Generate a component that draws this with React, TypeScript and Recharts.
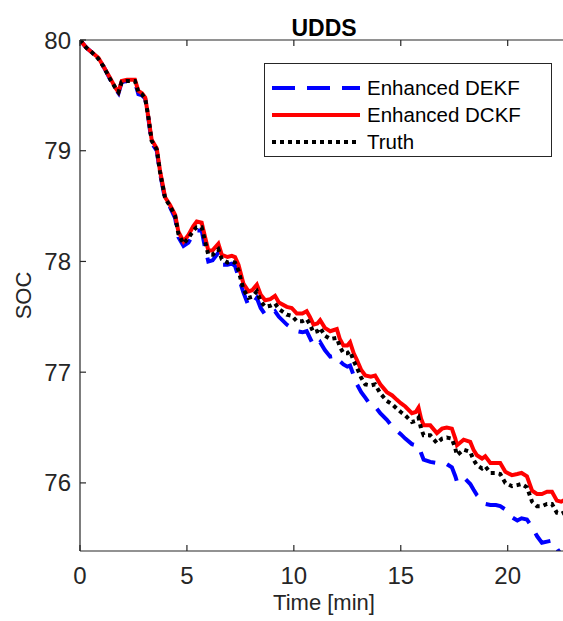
import { LineChart, Line, XAxis, YAxis, Legend } from "recharts";

// SOC estimates over the UDDS cycle
const FONT = '"Liberation Sans", Arial, Helvetica, sans-serif';
const AXIS = "#262626";

const timeMin = [
  0.0, 0.3, 0.55, 0.86, 1.1, 1.4, 1.65, 1.8, 1.95, 2.2,
  2.57, 2.73, 2.9, 3.05, 3.2, 3.35, 3.59, 3.74, 3.98, 4.21,
  4.45, 4.6, 4.84, 5.07, 5.3, 5.46, 5.69, 5.85, 6.0, 6.2,
  6.47, 6.63, 6.9, 7.1, 7.25, 7.41, 7.64, 7.88, 8.05, 8.27,
  8.45, 8.66, 8.9, 9.12, 9.3, 9.67, 9.9, 10.14, 10.4, 10.6,
  10.75, 10.92, 11.1, 11.23, 11.45, 11.7, 12.01, 12.15, 12.32, 12.5,
  12.63, 12.8, 12.95, 13.15, 13.34, 13.6, 13.8, 14.04, 14.35, 14.6,
  14.82, 15.0, 15.21, 15.52, 15.7, 15.83, 15.95, 16.07, 16.38, 16.69,
  16.93, 17.15, 17.39, 17.55, 17.63, 17.94, 18.25, 18.4, 18.56, 18.8,
  18.95, 19.19, 19.45, 19.65, 19.89, 20.2, 20.45, 20.65, 20.9, 21.14,
  21.37, 21.6, 21.84, 22.07, 22.3, 22.5, 22.82,
];

const dekfSoc = [
  80.0, 79.93, 79.89, 79.83, 79.76, 79.65, 79.56, 79.52, 79.62, 79.63,
  79.62, 79.51, 79.5, 79.47, 79.29, 79.07, 79.0, 78.8, 78.56, 78.49,
  78.39, 78.22, 78.14, 78.17, 78.25, 78.28, 78.28, 78.12, 78.0, 78.01,
  78.08, 77.97, 77.97, 77.98, 77.96, 77.86, 77.72, 77.6, 77.61, 77.67,
  77.58, 77.52, 77.52, 77.55, 77.5, 77.43, 77.4, 77.37, 77.36, 77.37,
  77.31, 77.24, 77.24, 77.27, 77.2, 77.14, 77.15, 77.1, 77.07, 77.05,
  77.06, 76.97, 76.89, 76.82, 76.77, 76.7, 76.69, 76.63, 76.57, 76.51,
  76.47, 76.44, 76.4, 76.35, 76.34, 76.34, 76.27, 76.21, 76.19, 76.18,
  76.17, 76.17, 76.14, 76.06, 76.01, 76.05, 75.99, 75.94, 75.89, 75.84,
  75.81, 75.8, 75.8, 75.79, 75.76, 75.69, 75.66, 75.68, 75.67, 75.6,
  75.52, 75.46, 75.47, 75.48, 75.41, 75.35, 75.3,
];

const dckfSoc = [
  80.0, 79.93, 79.89, 79.84, 79.76, 79.66, 79.57, 79.53, 79.63, 79.64,
  79.64, 79.54, 79.52, 79.48, 79.3, 79.1, 79.02, 78.82, 78.58, 78.51,
  78.42, 78.27, 78.18, 78.24, 78.32, 78.36, 78.35, 78.22, 78.1, 78.1,
  78.16, 78.06, 78.04, 78.05, 78.04, 77.97, 77.8, 77.73, 77.74, 77.79,
  77.7, 77.65, 77.66, 77.69, 77.63, 77.59, 77.58, 77.53, 77.53, 77.55,
  77.5, 77.43, 77.44, 77.47, 77.4, 77.37, 77.39, 77.3, 77.24, 77.24,
  77.27, 77.17, 77.11, 77.02, 76.97, 76.96, 76.97, 76.89, 76.82, 76.79,
  76.75, 76.72, 76.69, 76.63, 76.64, 76.68, 76.58, 76.52, 76.52, 76.45,
  76.49, 76.5, 76.49, 76.4, 76.34, 76.39, 76.37, 76.3, 76.25, 76.22,
  76.24, 76.18, 76.18, 76.18, 76.1, 76.07, 76.08, 76.09, 76.06, 75.93,
  75.9, 75.9, 75.92, 75.92, 75.84, 75.83, 75.86,
];

const truthSoc = [
  80.0, 79.93, 79.89, 79.83, 79.76, 79.65, 79.57, 79.53, 79.62, 79.63,
  79.63, 79.53, 79.51, 79.47, 79.3, 79.09, 79.01, 78.81, 78.57, 78.5,
  78.41, 78.25, 78.16, 78.21, 78.28, 78.31, 78.31, 78.18, 78.06, 78.06,
  78.11, 78.02, 77.99, 78.0, 77.99, 77.92, 77.75, 77.67, 77.68, 77.73,
  77.64, 77.59, 77.6, 77.62, 77.57, 77.52, 77.51, 77.46, 77.46, 77.48,
  77.43, 77.36, 77.37, 77.4, 77.33, 77.3, 77.31, 77.23, 77.17, 77.17,
  77.19, 77.1, 77.04, 76.95, 76.89, 76.88, 76.89, 76.81, 76.74, 76.71,
  76.67, 76.64, 76.61, 76.55, 76.56, 76.59, 76.49, 76.43, 76.43, 76.36,
  76.4, 76.41, 76.4, 76.31, 76.25, 76.3, 76.28, 76.21, 76.16, 76.13,
  76.15, 76.09, 76.09, 76.08, 76.0, 75.97, 75.98, 75.99, 75.96, 75.83,
  75.79, 75.79, 75.81, 75.81, 75.73, 75.72, 75.75,
];

const xTicks = [0, 5, 10, 15, 20];
const yTicks = [76, 77, 78, 79, 80];

const rows = timeMin.map((t, i) => ({
  t,
  dekf: dekfSoc[i],
  dckf: dckfSoc[i],
  truth: truthSoc[i],
}));

const series = [
  { key: "dekf", name: "Enhanced DEKF", color: "#0000FF", dash: "20 12", legendDash: "23 12" },
  { key: "dckf", name: "Enhanced DCKF", color: "#FF0000", dash: undefined, legendDash: undefined },
  { key: "truth", name: "Truth", color: "#000000", dash: "4 4", legendDash: "4 4" },
];

function LegendBox() {
  return (
    <svg width={289} height={95} style={{ display: "block" }}>
      <rect x={0.5} y={0.5} width={287} height={93} fill="#fff" stroke={AXIS} strokeWidth={1} />
      {series.map((s, i) => {
        const y = 25 + i * 27;
        return (
          <g key={s.key}>
            <line x1={8} x2={96} y1={y} y2={y} stroke={s.color} strokeWidth={4}
              strokeDasharray={s.legendDash} />
            <text x={103} y={y} dy="0.36em" fontSize={20.5} fill="#000" fontFamily={FONT}>
              {s.name}
            </text>
          </g>
        );
      })}
    </svg>
  );
}

export default function App() {
  return (
    <div style={{
      position: "fixed", left: 0, top: 0, width: 563, height: 621,
      overflow: "hidden", background: "#fff", fontFamily: FONT,
    }}>
      <LineChart width={600} height={621} data={rows}
        margin={{ top: 30, right: 32, bottom: 0, left: 0 }} style={{ fontFamily: FONT }}>
        <XAxis dataKey="t" type="number" domain={[0, 22.82]} ticks={xTicks} interval={0}
          allowDataOverflow height={70} tickSize={-6} tickMargin={22}
          tick={{ fontSize: 24, fill: AXIS }}
          axisLine={{ stroke: AXIS, strokeWidth: 1.2 }} tickLine={{ stroke: AXIS, strokeWidth: 1.2 }}
          label={{ value: "Time [min]", position: "insideBottom", offset: 11, fontSize: 22, fill: AXIS }} />
        <XAxis xAxisId="top" orientation="top" dataKey="t" type="number" domain={[0, 22.82]}
          ticks={xTicks} interval={0} allowDataOverflow height={10} tickSize={-6}
          tickFormatter={() => ""}
          axisLine={{ stroke: AXIS, strokeWidth: 1.2 }} tickLine={{ stroke: AXIS, strokeWidth: 1.2 }}
          label={{
            content: (p: any) => {
              const vb = p.viewBox;
              return (
                <text x={vb.x + vb.width / 2} y={vb.y + vb.height - 4} textAnchor="middle"
                  fontSize={23} fontWeight="bold" fill="#000" fontFamily={FONT}>UDDS</text>
              );
            },
          }} />
        <YAxis type="number" domain={[75.385, 80]} ticks={yTicks} interval={0} allowDataOverflow
          width={80} tickSize={-6} tickMargin={15}
          tick={{ fontSize: 24, fill: AXIS }}
          axisLine={{ stroke: AXIS, strokeWidth: 1.2 }} tickLine={{ stroke: AXIS, strokeWidth: 1.2 }}
          label={{
            content: (p: any) => {
              const vb = p.viewBox;
              const cx = 23;
              const cy = vb.y + vb.height / 2;
              return (
                <text x={cx} y={cy} transform={`rotate(-90 ${cx} ${cy})`} textAnchor="middle"
                  dominantBaseline="central" fontSize={22} fill={AXIS} fontFamily={FONT}>SOC</text>
              );
            },
          }} />
        <Legend layout="horizontal" verticalAlign="middle" align="center"
          wrapperStyle={{ left: 264, top: 63, width: 289, height: 95 }}
          content={() => <LegendBox />} />
        {series.map((s) => (
          <Line key={s.key} type="linear" dataKey={s.key} name={s.name} stroke={s.color}
            strokeWidth={4} strokeDasharray={s.dash} dot={false} activeDot={false}
            isAnimationActive={false} />
        ))}
      </LineChart>
    </div>
  );
}
